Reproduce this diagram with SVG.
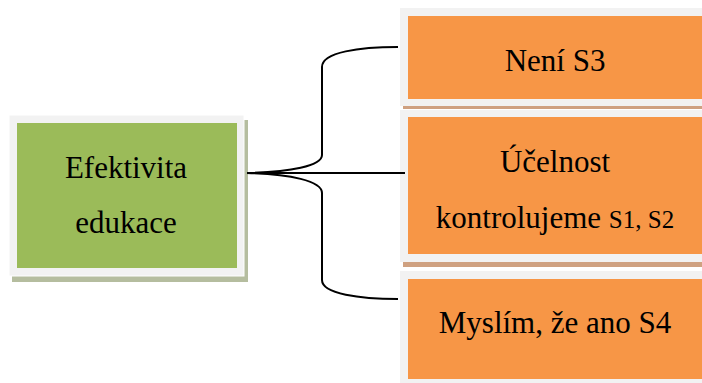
<svg xmlns="http://www.w3.org/2000/svg" width="702" height="383" viewBox="0 0 702 383">
<style>
.t{font-family:"Liberation Serif","Times New Roman",serif;font-size:31px;fill:#000;text-anchor:middle}
.s{font-size:25px}
.frame{fill:#f2f2f2}
.green{fill:#9bbb59}
.orange{fill:#f79646}
.gshadow{fill:#b5bd9f}
.oshadow{fill:#cfa181}
.conn{fill:none;stroke:#000;stroke-width:2}
</style>
<rect width="702" height="383" fill="#fff"/>
<g id="node-efektivita">
<rect class="gshadow" x="12" y="120" width="236" height="162"/>
<rect class="frame" x="9" y="115" width="235" height="161" stroke="#fff" stroke-width="1"/>
<rect class="green" x="17" y="123" width="220" height="145"/>
<text class="t" x="126" y="178">Efektivita</text>
<text class="t" x="126" y="233">edukace</text>
</g>
<g id="node-neni">
<rect class="oshadow" x="403" y="106" width="299" height="3"/>
<rect class="frame" x="400" y="8" width="302" height="98"/>
<rect class="orange" x="408" y="16" width="294" height="83"/>
<text class="t" x="555" y="71">Není S3</text>
</g>
<g id="node-ucelnost">
<rect class="oshadow" x="403" y="262" width="299" height="5"/>
<rect class="frame" x="400" y="110" width="302" height="152"/>
<rect class="orange" x="408" y="117" width="294" height="137"/>
<text class="t" x="555" y="172">Účelnost</text>
<text class="t" x="555" y="228">kontrolujeme <tspan class="s">S1, S2</tspan></text>
</g>
<g id="node-myslim">
<rect class="frame" x="400" y="271" width="302" height="112"/>
<rect class="orange" x="408" y="279" width="294" height="100"/>
<text class="t" x="555" y="333">Myslím, že ano S4</text>
</g>
<g id="connectors">
<path class="conn" d="M247,173 L405,173"/>
<path class="conn" d="M247,173 C290,172 322,166 322,155 L322,67 C322,52 360,47 398,47"/>
<path class="conn" d="M247,173 C290,174 322,181 322,193 L322,280 C322,294 360,299 398,299"/>
</g>
</svg>
